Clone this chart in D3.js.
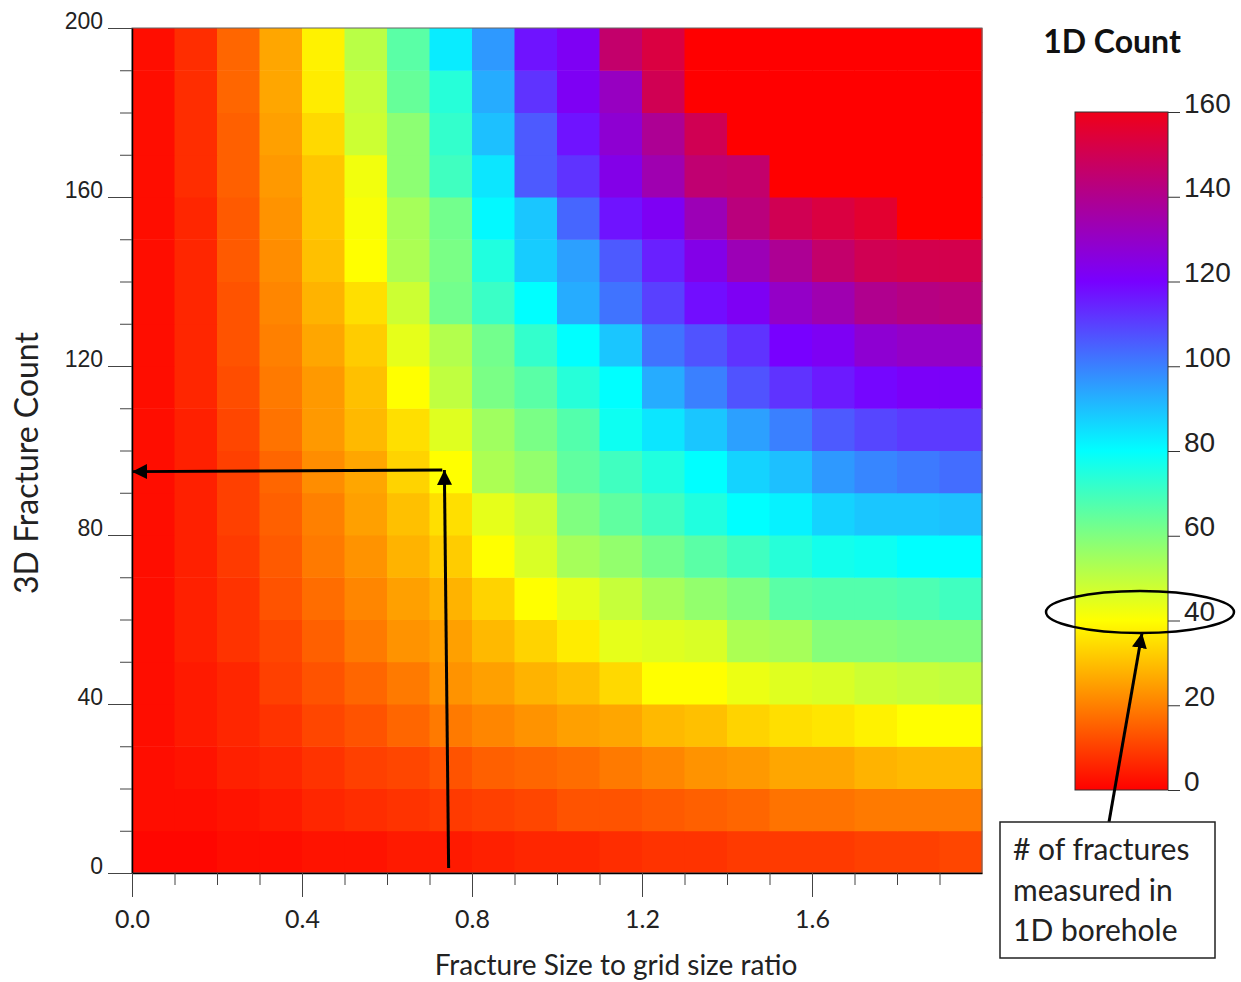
<!DOCTYPE html>
<html>
<head>
<meta charset="utf-8">
<script src="https://cdn.jsdelivr.net/npm/d3@7"></script>
<style>
  body { margin: 0; background: #fff; }
  svg { display: block; }
</style>
</head>
<body>
<div id="chart"></div>
<script>
const width = 1241;
const height = 982;

// grid cells: left edge of each size-ratio column, bottom edge of each 3D count row
const sizeRatios = [0.0, 0.1, 0.2, 0.3, 0.4, 0.5, 0.6, 0.7, 0.8, 0.9, 1.0, 1.1, 1.2, 1.3, 1.4, 1.5, 1.6, 1.7, 1.8, 1.9];
const fractureCounts = [0, 10, 20, 30, 40, 50, 60, 70, 80, 90, 100, 110, 120, 130, 140, 150, 160, 170, 180, 190];

// 1D count per cell, one row per fractureCounts entry (bottom row first)
const counts1D = [
  [1, 1, 2, 2, 3, 3, 4, 4, 5, 6, 6, 7, 8, 8, 9, 9, 9, 10, 10, 11],
  [2, 2, 3, 4, 6, 7, 8, 9, 10, 11, 13, 13, 14, 15, 16, 18, 18, 19, 19, 19],
  [2, 3, 5, 6, 8, 10, 11, 13, 15, 16, 17, 19, 21, 23, 24, 26, 26, 28, 29, 29],
  [2, 4, 6, 8, 11, 13, 16, 19, 21, 23, 25, 26, 29, 30, 33, 35, 36, 38, 40, 40],
  [2, 4, 6, 10, 13, 16, 19, 23, 25, 28, 30, 34, 40, 40, 43, 45, 46, 48, 49, 50],
  [2, 5, 8, 11, 15, 19, 23, 25, 29, 33, 37, 44, 45, 46, 53, 54, 59, 59, 60, 60],
  [2, 5, 8, 13, 17, 21, 25, 28, 33, 40, 44, 49, 54, 57, 60, 66, 67, 67, 68, 70],
  [2, 5, 9, 14, 19, 23, 28, 32, 40, 46, 54, 57, 62, 66, 70, 74, 77, 78, 80, 80],
  [2, 5, 10, 15, 20, 25, 30, 35, 44, 48, 60, 65, 70, 75, 80, 82, 87, 89, 89, 90],
  [2, 5, 10, 16, 22, 26, 33, 40, 53, 57, 65, 70, 75, 80, 87, 90, 96, 99, 101, 103],
  [2, 5, 11, 18, 24, 29, 35, 45, 55, 61, 67, 78, 84, 89, 95, 100, 106, 109, 111, 111],
  [2, 6, 12, 19, 24, 30, 40, 50, 61, 66, 74, 80, 93, 100, 107, 112, 116, 119, 121, 121],
  [2, 6, 13, 20, 26, 32, 44, 52, 62, 72, 80, 89, 102, 107, 112, 120, 122, 128, 130, 130],
  [2, 6, 13, 21, 28, 35, 48, 62, 71, 80, 93, 102, 110, 118, 122, 130, 134, 140, 142, 143],
  [2, 6, 14, 22, 30, 40, 53, 61, 75, 88, 95, 106, 115, 124, 133, 139, 146, 150, 151, 151],
  [2, 6, 14, 23, 31, 41, 54, 62, 81, 89, 104, 117, 122, 133, 143, 150, 153, 156, 161, 163],
  [2, 7, 15, 24, 31, 42, 58, 70, 84, 106, 112, 124, 134, 145, 146, 161, 163, 166, 170, 172],
  [2, 7, 15, 25, 34, 48, 58, 72, 90, 106, 117, 128, 139, 150, 162, 166, 170, 174, 178, 181],
  [2, 7, 16, 26, 37, 49, 64, 74, 93, 112, 122, 131, 150, 163, 168, 173, 177, 181, 185, 190],
  [2, 7, 16, 26, 38, 51, 66, 83, 96, 117, 122, 146, 153, 165, 170, 175, 180, 185, 190, 195]
];

// ticks and labels
const xTickValues = [0, 0.1, 0.2, 0.3, 0.4, 0.5, 0.6, 0.7, 0.8, 0.9, 1.0, 1.1, 1.2, 1.3, 1.4, 1.5, 1.6, 1.7, 1.8, 1.9];
const xLabelValues = [0, 0.4, 0.8, 1.2, 1.6];
const yTickValues = [0, 10, 20, 30, 40, 50, 60, 70, 80, 90, 100, 110, 120, 130, 140, 150, 160, 170, 180, 190, 200];
const yLabelValues = [0, 40, 80, 120, 160, 200];
const colorTicks = [0, 20, 40, 60, 80, 100, 120, 140, 160];

// colour map stops
const colorStops = [0, 20, 40, 60, 80, 100, 120, 140, 160];
const colorValues = ['#ff0000', '#ff8000', '#ffff00', '#80ff80', '#00ffff', '#3a80ff', '#7800ff', '#b0008e', '#f00018'];

// annotation: reading example
const pickRatio = 0.735;
const pickCount = 95.4;
const pickValue = 42;

const svg = d3.select('#chart')
  .append('svg')
  .attr('width', width)
  .attr('height', height);

const x = d3.scaleLinear().domain([0, 2]).range([132, 982]);
const y = d3.scaleLinear().domain([0, 200]).range([873, 28]);
const cy = d3.scaleLinear().domain([0, 160]).range([790, 112]);

const color = d3.scaleLinear().domain(colorStops).range(colorValues).clamp(true);
const fillFor = v => (v > 160 ? '#ff0000' : color(v));

const defs = svg.append('defs');

defs.append('marker')
  .attr('id', 'head')
  .attr('viewBox', '0 0 10 10')
  .attr('refX', 10)
  .attr('refY', 5)
  .attr('markerUnits', 'userSpaceOnUse')
  .attr('markerWidth', 15)
  .attr('markerHeight', 16)
  .attr('orient', 'auto')
  .append('path')
  .attr('d', 'M0,0 L10,5 L0,10 Z')
  .attr('fill', '#000');

const grad = defs.append('linearGradient')
  .attr('id', 'cbar')
  .attr('x1', 0).attr('y1', 1)
  .attr('x2', 0).attr('y2', 0);

grad.selectAll('stop')
  .data(colorStops)
  .enter()
  .append('stop')
  .attr('offset', d => d / 160)
  .attr('stop-color', d => color(d));

// heatmap cells
const cells = [];
counts1D.forEach((row, i) => {
  row.forEach((v, j) => {
    cells.push({ ratio: sizeRatios[j], count: fractureCounts[i], value: v });
  });
});

svg.append('g')
  .selectAll('rect')
  .data(cells)
  .enter()
  .append('rect')
  .attr('x', d => x(d.ratio))
  .attr('y', d => y(d.count + 10))
  .attr('width', x(0.1) - x(0) + 0.5)
  .attr('height', y(0) - y(10) + 0.5)
  .attr('fill', d => fillFor(d.value));

// frame
svg.append('rect')
  .attr('x', x(0))
  .attr('y', y(200))
  .attr('width', x(2) - x(0))
  .attr('height', y(0) - y(200))
  .attr('fill', 'none')
  .attr('stroke', '#666')
  .attr('stroke-width', 1);

// y axis
const yAxis = svg.append('g')
  .attr('transform', `translate(${x(0)},0)`)
  .call(d3.axisLeft(y)
    .tickValues(yTickValues)
    .tickSize(12)
    .tickSizeOuter(0)
    .tickFormat(d => (yLabelValues.includes(d) ? d : '')));

yAxis.select('.domain').attr('stroke', '#000').attr('stroke-width', 1.5);
yAxis.selectAll('.tick line')
  .attr('stroke', '#444')
  .attr('x2', d => (yLabelValues.includes(d) ? -24 : -12));
yAxis.selectAll('text')
  .attr('x', -29)
  .attr('dy', '0.02em')
  .style('font-family', '"Liberation Sans", Arial, sans-serif')
  .style('font-size', '23px')
  .style('fill', '#222');

// x axis
const xAxis = svg.append('g')
  .attr('transform', `translate(0,${y(0)})`)
  .call(d3.axisBottom(x)
    .tickValues(xTickValues)
    .tickSize(12)
    .tickSizeOuter(0)
    .tickFormat(d => (xLabelValues.includes(d) ? d.toFixed(1) : '')));

xAxis.select('.domain').attr('stroke', '#000').attr('stroke-width', 1.5);
xAxis.selectAll('.tick line')
  .attr('stroke', '#444')
  .attr('y2', d => (xLabelValues.includes(d) ? 24 : 12));
xAxis.selectAll('text')
  .attr('y', 55)
  .attr('dy', 0)
  .style('font-family', 'Lato, "Open Sans", sans-serif')
  .style('font-size', '25px')
  .style('fill', '#222');

svg.append('text')
  .attr('x', 616)
  .attr('y', 975)
  .attr('text-anchor', 'middle')
  .style('font-family', 'Lato, "Open Sans", sans-serif')
  .style('font-size', '28px')
  .style('fill', '#222')
  .text('Fracture Size to grid size ratio');

svg.append('text')
  .attr('transform', 'translate(38,463) rotate(-90)')
  .attr('text-anchor', 'middle')
  .style('font-family', 'Lato, "Open Sans", sans-serif')
  .style('font-size', '32px')
  .style('fill', '#222')
  .text('3D Fracture Count');

// reading arrows
svg.append('line')
  .attr('x1', x(pickRatio + 0.01))
  .attr('y1', y(1.2))
  .attr('x2', x(pickRatio))
  .attr('y2', y(pickCount))
  .attr('stroke', '#000')
  .attr('stroke-width', 3)
  .attr('marker-end', 'url(#head)');

svg.append('line')
  .attr('x1', x(pickRatio - 0.005))
  .attr('y1', y(pickCount))
  .attr('x2', x(0))
  .attr('y2', y(pickCount - 0.4))
  .attr('stroke', '#000')
  .attr('stroke-width', 3)
  .attr('marker-end', 'url(#head)');

// colour bar
svg.append('text')
  .attr('x', 1112)
  .attr('y', 53)
  .attr('text-anchor', 'middle')
  .style('font-family', 'Lato, "Open Sans", sans-serif')
  .style('font-size', '32px')
  .style('font-weight', 'bold')
  .style('fill', '#111')
  .text('1D Count');

svg.append('rect')
  .attr('x', 1075)
  .attr('y', cy(160))
  .attr('width', 93)
  .attr('height', cy(0) - cy(160))
  .attr('fill', 'url(#cbar)')
  .attr('stroke', '#333')
  .attr('stroke-width', 1);

const cAxis = svg.append('g')
  .attr('transform', 'translate(1168,0)')
  .call(d3.axisRight(cy)
    .tickValues(colorTicks)
    .tickSize(12)
    .tickSizeOuter(0));

cAxis.select('.domain').remove();
cAxis.selectAll('line').attr('stroke', '#333');
cAxis.selectAll('text')
  .attr('x', 16)
  .attr('dy', '0em')
  .style('font-family', '"Liberation Sans", Arial, sans-serif')
  .style('font-size', '28px')
  .style('fill', '#222');

// highlight of the read value on the colour bar
svg.append('ellipse')
  .attr('cx', 1140)
  .attr('cy', cy(pickValue))
  .attr('rx', 94)
  .attr('ry', 21)
  .attr('fill', 'none')
  .attr('stroke', '#000')
  .attr('stroke-width', 2.5);

svg.append('line')
  .attr('x1', 1109)
  .attr('y1', 822)
  .attr('x2', 1142)
  .attr('y2', cy(pickValue) + 21)
  .attr('stroke', '#000')
  .attr('stroke-width', 3)
  .attr('marker-end', 'url(#head)');

// note box
svg.append('rect')
  .attr('x', 1000)
  .attr('y', 822)
  .attr('width', 215)
  .attr('height', 136)
  .attr('fill', '#fff')
  .attr('stroke', '#222')
  .attr('stroke-width', 1.5);

const noteLines = ['# of fractures', 'measured in', '1D borehole'];
svg.append('g')
  .selectAll('text')
  .data(noteLines)
  .enter()
  .append('text')
  .attr('x', 1013)
  .attr('y', (d, i) => 860 + i * 40.5)
  .style('font-family', 'Lato, "Open Sans", sans-serif')
  .style('font-size', '30px')
  .style('fill', '#222')
  .text(d => d);
</script>
</body>
</html>
